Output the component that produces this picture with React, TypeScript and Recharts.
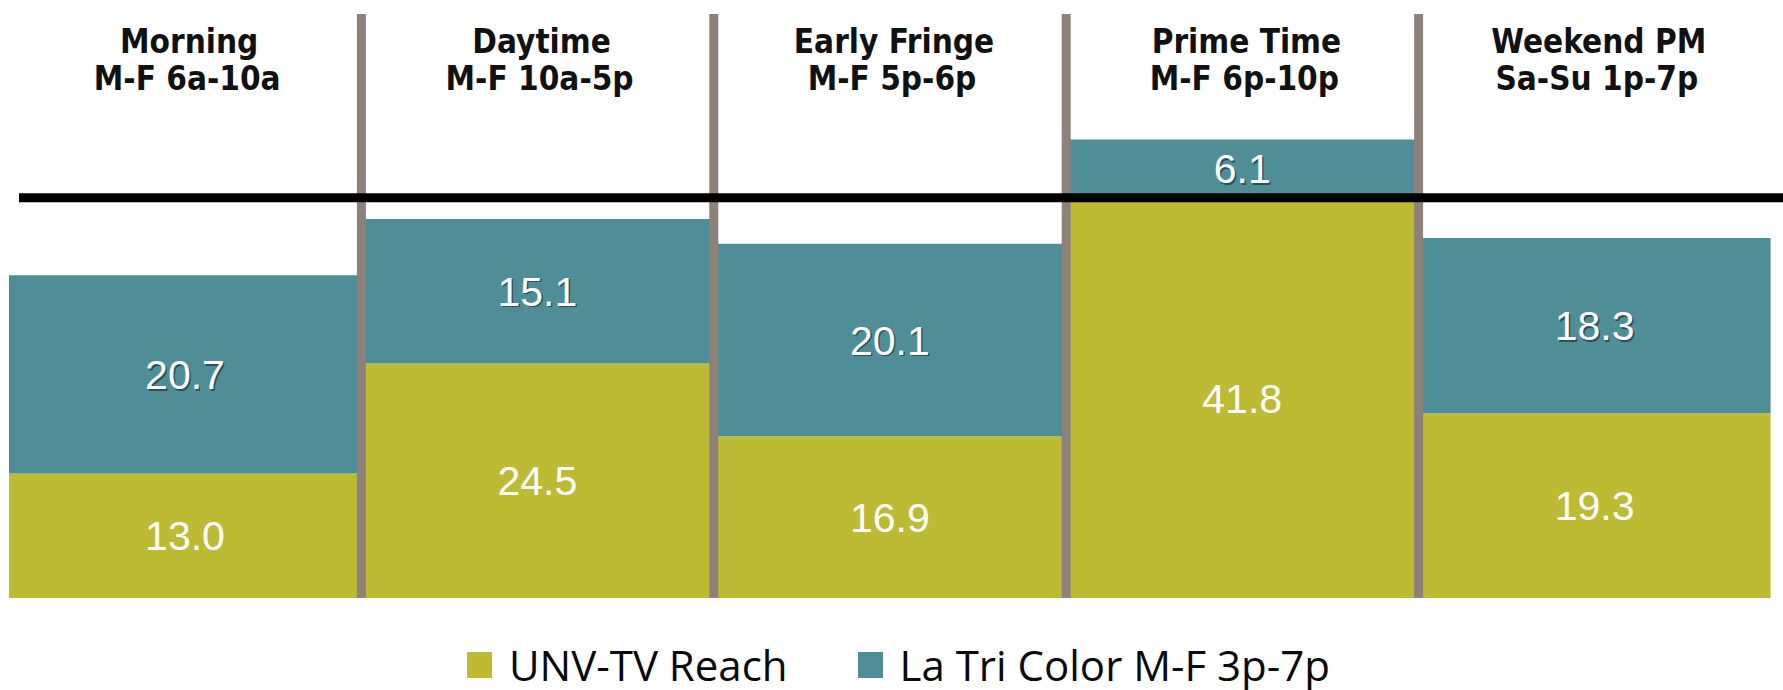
import React from 'react';
import { BarChart, Bar, XAxis, YAxis, ReferenceLine, LabelList, Legend } from 'recharts';

const categories = ['Morning', 'Daytime', 'Early Fringe', 'Prime Time', 'Weekend PM'];
const dayparts = ['M-F 6a-10a', 'M-F 10a-5p', 'M-F 5p-6p', 'M-F 6p-10p', 'Sa-Su 1p-7p'];
const unvReach = [13.0, 24.5, 16.9, 41.8, 19.3];
const laTriColor = [20.7, 15.1, 20.1, 6.1, 18.3];
const seriesNames = ['UNV-TV Reach', 'La Tri Color M-F 3p-7p'];
const benchmark = 41.8;
const yDomain = [0, 61];

const YELLOW = '#BDBB33';
const TEAL = '#4F8E97';
const DIVIDER = '#8D817A';

const data = categories.map((c, i) => ({
  name: c,
  daypart: dayparts[i],
  unv: unvReach[i],
  latri: laTriColor[i],
}));

const LABEL_FONT = 41;

const makeValueLabel = (shadow: boolean) => (props: any) => {
  const { x, y, width, height, value } = props;
  const cx = Number(x) + Number(width) / 2;
  const cy = Number(y) + Number(height) / 2;
  const base = cy + 0.358 * LABEL_FONT;
  const txt = Number(value).toFixed(1);
  const common = {
    textAnchor: 'middle' as const,
    fontFamily: '"Liberation Sans", Arial, sans-serif',
    fontSize: LABEL_FONT,
  };
  return (
    <g>
      {shadow && (
        <text x={cx + 1.5} y={base + 1.5} fill="#1f3c40" opacity={0.75} {...common}>
          {txt}
        </text>
      )}
      <text x={cx} y={base} fill="#ffffff" {...common}>
        {txt}
      </text>
    </g>
  );
};

const CategoryTick = (props: any) => {
  const { x, y, payload, index } = props;
  const common = {
    textAnchor: 'middle' as const,
    fontFamily: '"DejaVu Sans Condensed", "DejaVu Sans", sans-serif',
    fontWeight: 'bold' as const,
    fontSize: 33,
    fill: '#111111',
  };
  return (
    <g>
      <text x={x + 4} y={y + 39} {...common}>{payload.value}</text>
      <text x={x + 2} y={y + 76} {...common}>{dayparts[index]}</text>
    </g>
  );
};

const LegendContent = (props: any) => {
  const items = [...(props.payload || [])].sort(
    (a: any, b: any) => seriesNames.indexOf(a.value) - seriesNames.indexOf(b.value)
  );
  return (
    <div
      style={{
        height: 92,
        boxSizing: 'border-box',
        paddingTop: 47,
        paddingLeft: 17,
        display: 'flex',
        justifyContent: 'center',
        alignItems: 'flex-start',
      }}
    >
      {items.map((it: any, i: number) => (
        <div
          key={i}
          style={{ display: 'flex', alignItems: 'center', marginRight: i === 0 ? 70 : 0, height: 40 }}
        >
          <span style={{ display: 'inline-block', width: 25, height: 26, background: it.color, marginRight: 17 }} />
          <span
            style={{
              fontFamily: '"Open Sans", sans-serif',
              fontSize: 42,
              lineHeight: '40px',
              color: '#0a0a0a',
              whiteSpace: 'nowrap',
            }}
          >
            {it.value}
          </span>
        </div>
      ))}
    </div>
  );
};

const BenchmarkShape = (props: any) => {
  const { x1, y1, x2, y2 } = props;
  return <line x1={Number(x1) + 10} y1={y1} x2={Number(x2) + 12} y2={y2} stroke="#000" strokeWidth={9} />;
};

export default function App() {
  return (
    <div style={{ position: 'absolute', left: 0, top: 0, width: 1783, height: 690, background: '#fff' }}>
      <BarChart
        width={1783}
        height={690}
        data={data}
        margin={{ top: 13, right: 12, bottom: 0, left: 9 }}
        barCategoryGap={0}
        barGap={0}
      >
        <XAxis
          dataKey="name"
          orientation="top"
          height={1}
          axisLine={false}
          tickLine={false}
          tickSize={0}
          tickMargin={0}
          interval={0}
          tick={<CategoryTick />}
        />
        <YAxis hide domain={yDomain} />
        <Legend verticalAlign="bottom" content={<LegendContent />} />
        <Bar dataKey="unv" name={seriesNames[0]} stackId="a" fill={YELLOW} isAnimationActive={false}>
          <LabelList dataKey="unv" content={makeValueLabel(false)} />
        </Bar>
        <Bar dataKey="latri" name={seriesNames[1]} stackId="a" fill={TEAL} isAnimationActive={false}>
          <LabelList dataKey="latri" content={makeValueLabel(true)} />
        </Bar>
        {categories.slice(1).map((c) => (
          <ReferenceLine key={c} x={c} position="start" stroke={DIVIDER} strokeWidth={9} ifOverflow="visible" />
        ))}
        <ReferenceLine y={benchmark} ifOverflow="visible" shape={<BenchmarkShape />} />
      </BarChart>
    </div>
  );
}
